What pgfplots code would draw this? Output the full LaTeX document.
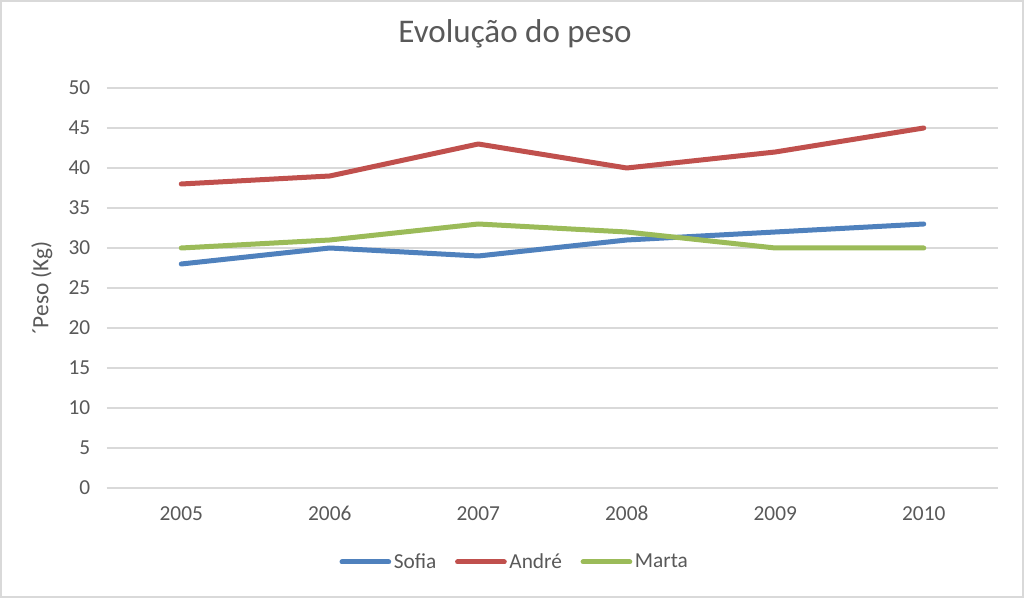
\documentclass[border=0pt]{standalone}
\usepackage{fontspec}
\setmainfont{Carlito}
\usepackage{pgfplots}
\pgfplotsset{compat=1.18}
\definecolor{cSofia}{RGB}{79,129,189}
\definecolor{cAndre}{RGB}{192,80,77}
\definecolor{cMarta}{RGB}{155,187,89}
\definecolor{cText}{RGB}{89,89,89}
\definecolor{cGrid}{RGB}{217,217,217}
\begin{document}
\begin{tikzpicture}
% outer chart frame (1024x598 px at 0.75pt/px)
\fill[white] (0pt,0pt) rectangle (768pt,448.5pt);
\draw[cGrid, line width=1.2pt] (0.6pt,0.6pt) rectangle (767.4pt,447.9pt);
\begin{axis}[
  at={(80.25pt,82.5pt)}, anchor=south west,
  scale only axis, width=668.25pt, height=300pt,
  xmin=-0.5, xmax=5.5, ymin=0, ymax=50,
  xtick={0,...,5}, xticklabels={2005,2006,2007,2008,2009,2010},
  ytick={0,5,...,50},
  axis lines*=left,
  x axis line style={cGrid, line width=0.9pt},
  y axis line style={draw=none},
  major tick length=0pt,
  ymajorgrids, grid style={cGrid, line width=0.9pt},
  tick label style={font=\fontsize{16}{19}\selectfont, color=cText},
  /pgf/number format/assume math mode=true,
  yticklabel style={xshift=-9pt},
  xticklabel style={yshift=-10pt, text depth=0pt, text height=11pt},
  ylabel={\char"00B4Peso (Kg)},
  ylabel style={font=\fontsize{17.5}{20}\selectfont, color=cText,
    at={(axis description cs:-0.073,0.5)}, anchor=center},
  title={Evolução do peso},
  title style={font=\fontsize{24.8}{29}\selectfont, color=cText,
    at={(axis description cs:0.458,1.115)}, anchor=center},
  every axis plot/.append style={line width=3.75pt, line join=round, line cap=round},
  legend columns=3,
  legend style={at={(axis description cs:0.458,-0.185)}, anchor=center,
    draw=none, fill=none, font=\fontsize{16}{19}\selectfont, text=cText,
    /tikz/every even column/.append style={column sep=12pt}},
  legend image code/.code={\draw[#1, line cap=round] (0pt,0pt) -- (35pt,0pt);},
]
\addplot[cSofia] coordinates {(0,28) (1,30) (2,29) (3,31) (4,32) (5,33)};
\addlegendentry{Sofia}
\addplot[cAndre] coordinates {(0,38) (1,39) (2,43) (3,40) (4,42) (5,45)};
\addlegendentry{André}
\addplot[cMarta] coordinates {(0,30) (1,31) (2,33) (3,32) (4,30) (5,30)};
\addlegendentry{Marta}
\end{axis}
\end{tikzpicture}
\end{document}
